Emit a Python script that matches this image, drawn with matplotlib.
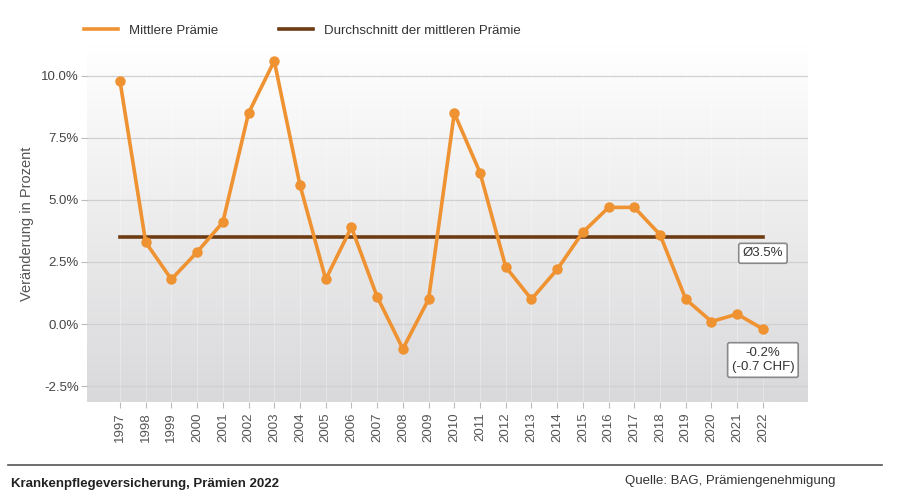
import numpy as np
import matplotlib
matplotlib.use("Agg")
import matplotlib.pyplot as plt
from matplotlib.colors import LinearSegmentedColormap
from matplotlib.lines import Line2D

years = list(range(1997, 2023))
praemie = [9.8, 3.3, 1.8, 2.9, 4.1, 8.5, 10.6, 5.6, 1.8, 3.9, 1.1, -1.0, 1.0,
           8.5, 6.1, 2.3, 1.0, 2.2, 3.7, 4.7, 4.7, 3.6, 1.0, 0.1, 0.4, -0.2]
durchschnitt = 3.5
yticks = [-2.5, 0.0, 2.5, 5.0, 7.5, 10.0]

orange = "#ef9231"
braun = "#6e3c12"

plt.rcParams['font.family'] = ['Liberation Sans', 'DejaVu Sans']

fig = plt.figure(figsize=(9, 5.04), dpi=100)
ax = fig.add_axes([0.0967, 0.202, 0.801, 0.709])

# background gradient, white at top to light grey at bottom
grad = np.linspace(0, 1, 256).reshape(-1, 1)
cmap = LinearSegmentedColormap.from_list("bg", ["#ffffff", "#d9d9db"])
ax.imshow(grad, aspect="auto", cmap=cmap, extent=[0, 1, 0, 1],
          transform=ax.transAxes, zorder=0)

for y in yticks:
    ax.axhline(y, color="#d0d0d0", lw=0.9, zorder=1)
for x in years:
    ax.axvline(x, color="#ffffff", lw=0.6, alpha=0.35, zorder=1)

ax.plot([years[0], years[-1]], [durchschnitt, durchschnitt], color=braun, lw=2.6, zorder=3)
ax.plot(years, praemie, color=orange, lw=2.6, marker="o", ms=6.5, zorder=4)

ax.set_xlim(1997 - 1.28, 2022 + 1.75)
ax.set_ylim(-3.15, 11.25)
ax.set_yticks(yticks)
ax.set_yticklabels([f"{v:.1f}%" for v in yticks], fontsize=9.5, color="#444444")
ax.set_xticks(years)
ax.set_xticklabels([str(y) for y in years], rotation=90, fontsize=9.5, color="#555555")
ax.tick_params(axis="x", length=4, color="#bbbbbb")
ax.tick_params(axis="y", length=4, pad=2, color="#bbbbbb")
for s in ax.spines.values():
    s.set_visible(False)
ax.set_ylabel("Veränderung in Prozent", fontsize=10.5, color="#555555", labelpad=5)

box = dict(boxstyle="round,pad=0.3,rounding_size=0.15", fc="white", ec="#888888", lw=1.2)
ax.text(2022, 2.85, "Ø3.5%", ha="center", va="center", fontsize=9.5,
        color="#333333", bbox=box, zorder=5)
ax.text(2022, -1.45, "-0.2%\n(-0.7 CHF)", ha="center", va="center", fontsize=9.5,
        color="#333333", bbox=box, zorder=5, linespacing=1.3)

# legend on top
handles = [Line2D([], [], color=orange, lw=2.6), Line2D([], [], color=braun, lw=2.6)]
labels = ["Mittlere Prämie", "Durchschnitt der mittleren Prämie"]
fig.legend(handles, labels, loc="upper left", bbox_to_anchor=(0.08, 0.975),
           ncol=2, frameon=False, fontsize=9.5, handlelength=2.6, columnspacing=4.6,
           labelcolor="#333333")

# footer
fig.add_artist(Line2D([0.009, 0.98], [0.077, 0.077], color="#555555", lw=1.2))
fig.text(0.012, 0.04, "Krankenpflegeversicherung, Prämien 2022", fontsize=9.5,
         fontweight="bold", color="#222222", va="center")
fig.text(0.928, 0.045, "Quelle: BAG, Prämiengenehmigung", fontsize=9.5,
         color="#333333", va="center", ha="right")

fig.savefig("out.png", dpi=100)
